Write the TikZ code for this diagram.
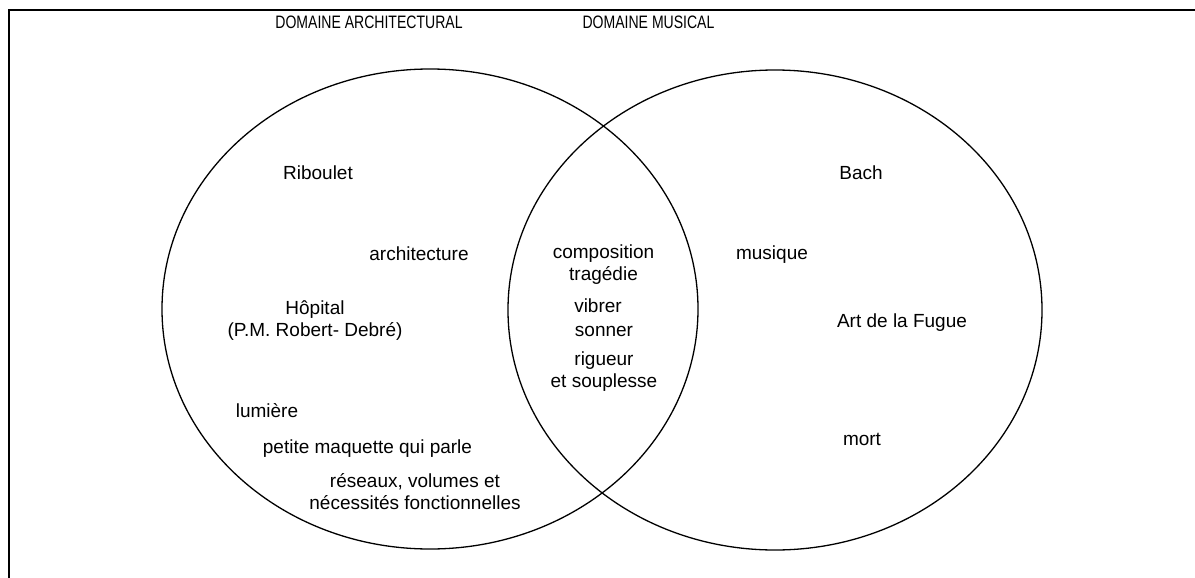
\documentclass[tikz,border=0pt]{standalone}
\usepackage{fontspec}
\usepackage{graphicx}
\usetikzlibrary{shapes.geometric}
\setmainfont{Liberation Sans}
\tikzset{
  lbl/.style={inner sep=0pt, align=center, font=\fontsize{19}{22}\selectfont},
  ttl/.style={inner sep=0pt, font=\fontsize{18}{20}\selectfont},
  venn/.style={draw=black, line width=1.3pt, ellipse, inner sep=0pt, minimum width=536pt, minimum height=480pt},
  frame/.style={draw=black, line width=2pt}
}
\begin{document}
\begin{tikzpicture}[x=1pt,y=-1pt]
\path[use as bounding box] (0,0) rectangle (1195,578);
\clip (0,0) rectangle (1195,578);
\fill[white] (0,0) rectangle (1195,578);
\coordinate (fb) at (8.5,600);
\coordinate (fc) at (8.5,10);
\coordinate (fr) at (1220,10);
\draw[frame] (fb) -- (fc) -- (fr);
\node[ttl] (t1) at (369,22) {\scalebox{0.78}[1]{DOMAINE ARCHITECTURAL}};
\node[ttl] (t2) at (648.5,22) {\scalebox{0.78}[1]{DOMAINE MUSICAL}};
\node[venn] (L) at (430,309) {};
\node[venn, minimum width=534pt] (R) at (775,310) {};
% left
\node[lbl] (rib) at (318,173) {Riboulet};
\node[lbl] (arch) at (419,254) {architecture};
\node[lbl] (hop) at (315,321) {Hôpital\\(P.M. Robert- Debré)};
\node[lbl] (lum) at (267,411) {lumière};
\node[lbl] (maq) at (367.5,449) {petite maquette qui parle};
\node[lbl] (res) at (415,492) {réseaux, volumes et\\nécessités fonctionnelles};
% middle
\node[lbl] (comp) at (603.5,265) {composition\\tragédie};
\node[lbl] (vib) at (598,306) {vibrer};
\node[lbl] (son) at (604,331) {sonner};
\node[lbl] (rig) at (604,372) {rigueur\\et souplesse};
% right
\node[lbl] (bach) at (861,173) {Bach};
\node[lbl] (mus) at (772,255) {musique};
\node[lbl] (art) at (902,323) {Art de la Fugue};
\node[lbl] (mort) at (862,439) {mort};
\end{tikzpicture}
\end{document}
